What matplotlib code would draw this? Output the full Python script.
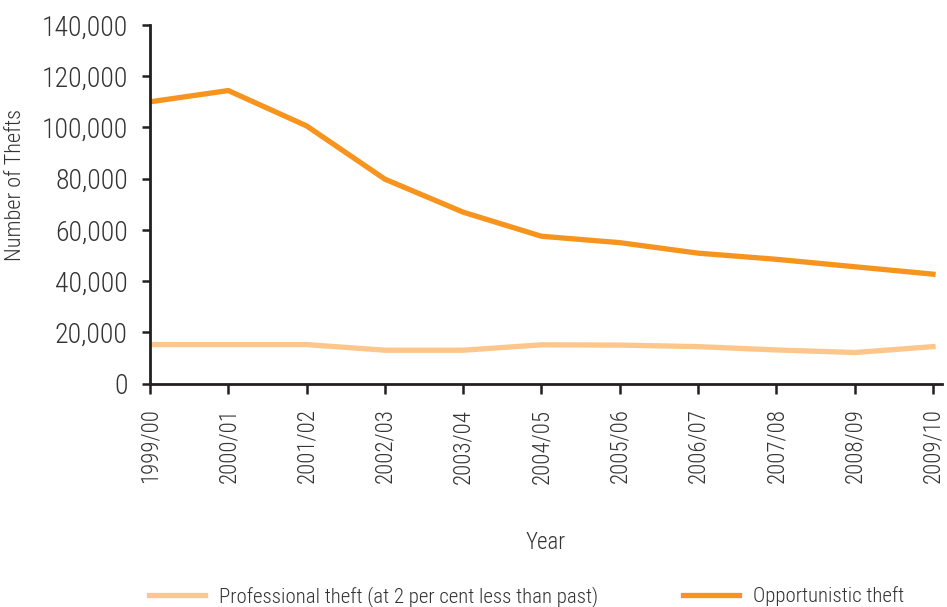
import matplotlib
matplotlib.use("Agg")
import matplotlib.pyplot as plt
from matplotlib.ticker import FuncFormatter

years = ["1999/00", "2000/01", "2001/02", "2002/03", "2003/04", "2004/05",
         "2005/06", "2006/07", "2007/08", "2008/09", "2009/10"]
professional = [15200, 15200, 15200, 13000, 13000, 15100, 15000, 14400, 13100, 12100, 14400]
opportunistic = [110000, 114400, 100600, 79800, 66900, 57500, 55000, 50900, 48500, 45600, 42700]

plt.rcParams['font.family'] = ['Roboto Condensed', 'DejaVu Sans']
plt.rcParams['font.weight'] = 'light'
plt.rcParams['axes.labelweight'] = 'light'
ink = "#231f20"
text_col = "#333333"

fig = plt.figure(figsize=(9.47, 6.07), dpi=100)
ax = fig.add_axes([150 / 947, 1 - 383.5 / 607, (942 - 150) / 947, (383.5 - 25) / 607])

x = list(range(len(years)))
ax.plot(x, professional, color="#fdc68a", lw=3.8, solid_joinstyle="round",
        label="Professional theft (at 2 per cent less than past)")
ax.plot(x, opportunistic, color="#f7941d", lw=3.8, solid_joinstyle="round",
        label="Opportunistic theft")

ax.set_xlim(0, 10.115)
ax.set_ylim(0, 140000)
ax.set_yticks(range(0, 140001, 20000))
ax.yaxis.set_major_formatter(FuncFormatter(lambda v, p: f"{int(v):,}"))
ax.set_xticks(x)
ax.set_xticklabels(years, rotation=90)

for s in ("top", "right"):
    ax.spines[s].set_visible(False)
for s in ("left", "bottom"):
    ax.spines[s].set_color(ink)
    ax.spines[s].set_linewidth(2)

ax.tick_params(axis="y", length=6, width=1.8, color=ink, labelsize=20, labelcolor=text_col, pad=10)
ax.tick_params(axis="x", length=7, width=1.8, color=ink, labelsize=16.5, labelcolor=text_col, pad=11)

ax.set_ylabel("Number of Thefts", fontsize=16, fontweight="light", color=text_col)
ax.yaxis.set_label_coords(-0.156, 0.554)
ax.set_xlabel("Year", fontsize=16.5, fontweight="light", color=text_col, labelpad=34)

leg = fig.legend(loc="lower center", bbox_to_anchor=(0.556, -0.031), ncol=2, frameon=False,
                 fontsize=15, handlelength=2.7, handletextpad=0.65, columnspacing=4.1,
                 labelcolor=text_col)

fig.savefig("out.png", dpi=100)
